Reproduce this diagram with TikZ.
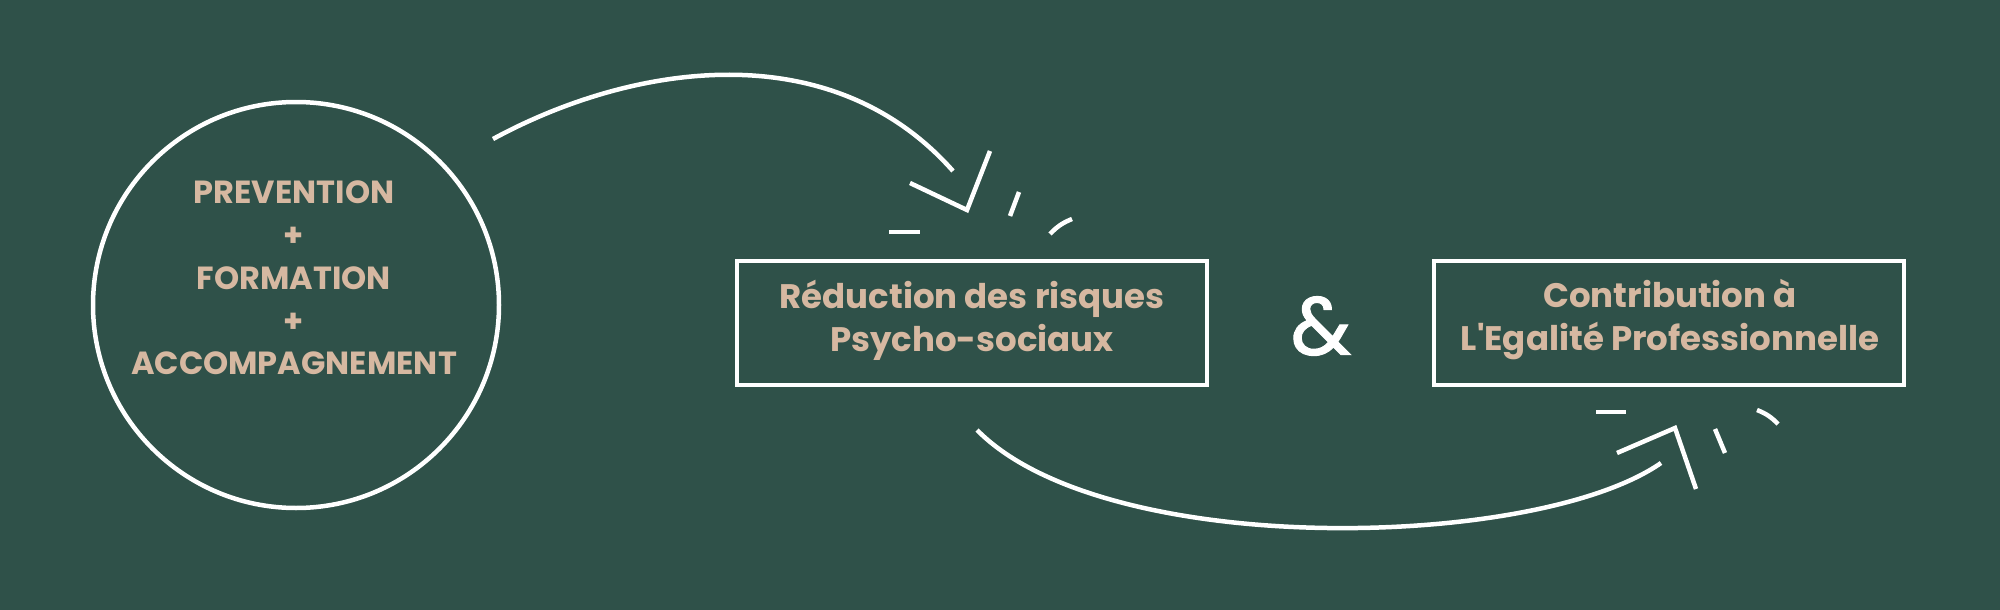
\documentclass[tikz,border=0pt]{standalone}
\usepackage{fontspec}
\setmainfont{Poppins}[Ligatures=TeXOff]
\newfontfamily\etfont{Poppins}[FakeBold=1.2]
\usetikzlibrary{positioning}

\definecolor{fond}{RGB}{47,81,73}
\definecolor{sable}{RGB}{214,184,161}

\begin{document}
\begin{tikzpicture}[x=1pt, y=-1pt, line width=4.5pt, white,
	every node/.style = {align=center, text=sable, inner sep=0pt,
	font=\fontsize{34}{43}\selectfont\bfseries},
	cadre/.style = {draw=white, minimum width=470pt, minimum height=124pt}]

	\fill[fond] (0,0) rectangle (2000,610);
	\useasboundingbox (0,0) rectangle (2000,610);

	\node[circle, draw=white, minimum size=406pt] (objectif) at (296,305) {};
	\node[font=\fontsize{32}{42.75}\selectfont\bfseries] (objtexte) at (294,278)
		{PREVENTION\\+\\FORMATION\\+\\ACCOMPAGNEMENT};
	\node[cadre] (rps) at (972,323) {};
	\node (rpstexte) at (972,320) {Réduction des risques\\Psycho-sociaux};
	\node[cadre] (egalite) at (1669,323) {};
	\node (egatexte) at (1670,320) {Contribution à\\L'Egalité Professionnelle};
	\node[text=white, font=\fontsize{82}{86}\etfont] (et) at (1321,326) {\&};

	\coordinate (hd) at (493,139);
	\coordinate (ha) at (953,171);
	\coordinate (bd) at (977,430);
	\coordinate (ba) at (1661,463);

	\draw (hd) .. controls (633,63) and (831,33) .. (ha);
	\draw (bd) .. controls (1105,560) and (1536,550) .. (ba);

	\draw (910,183) -- (967,210) -- (990,151);
	\draw (889,232) -- (920,232);
	\draw (1010,216) -- (1019,192);
	\draw (1050,234) to[bend left=12] (1072,219);

	\draw (1617,453) -- (1675,428) -- (1696,489);
	\draw (1596,412) -- (1626,412);
	\draw (1715,429) -- (1725,453);
	\draw (1757,410) to[bend left=12] (1778,424);
\end{tikzpicture}
\end{document}
